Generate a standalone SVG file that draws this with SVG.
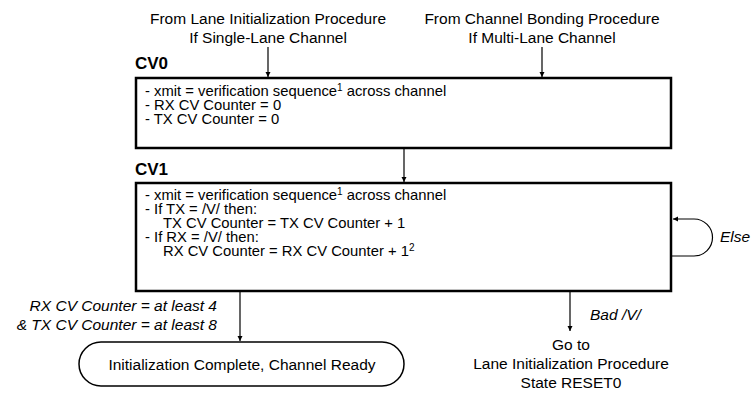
<svg xmlns="http://www.w3.org/2000/svg" width="753" height="397" viewBox="0 0 753 397">
<defs>
<marker id="arr" viewBox="0 0 10 10" refX="10" refY="5" markerWidth="5" markerHeight="9" orient="auto" markerUnits="userSpaceOnUse">
<path d="M0,0 L10,5 L0,10 z" fill="#000"/>
</marker>
<style>
text{font-family:"Liberation Sans",Arial,sans-serif;font-size:15.5px;fill:#000}
.b{font-size:14.8px}
.c{text-anchor:middle}
.e{text-anchor:end}
.i{font-style:italic}
.h{font-weight:bold;font-size:17px}
.box{fill:#fff;stroke:#000;stroke-width:2.5}
.ln{fill:none;stroke:#000;stroke-width:1.2}
.sup{font-size:10px}
</style>
</defs>
<rect width="753" height="397" fill="#fff"/>
<g id="src-single">
<text class="c" x="268" y="24">From Lane Initialization Procedure</text>
<text class="c" x="268" y="43">If Single-Lane Channel</text>
</g>
<g id="src-multi">
<text class="c" x="542" y="24">From Channel Bonding Procedure</text>
<text class="c" x="542" y="43">If Multi-Lane Channel</text>
</g>
<g id="cv0">
<text class="h" x="135" y="69">CV0</text>
<rect class="box" x="136" y="78" width="535" height="70"/>
<text class="b" x="145" y="96">- xmit = verification sequence<tspan class="sup" dy="-5">1</tspan><tspan dy="5"> across channel</tspan></text>
<text class="b" x="145" y="110">- RX CV Counter = 0</text>
<text class="b" x="145" y="124">- TX CV Counter = 0</text>
</g>
<g id="cv1">
<text class="h" x="135" y="175">CV1</text>
<rect class="box" x="136" y="183" width="535" height="108"/>
<text class="b" x="145" y="200">- xmit = verification sequence<tspan class="sup" dy="-5">1</tspan><tspan dy="5"> across channel</tspan></text>
<text class="b" x="145" y="214">- If TX = /V/ then:</text>
<text class="b" x="163" y="228">TX CV Counter = TX CV Counter + 1</text>
<text class="b" x="145" y="242">- If RX = /V/ then:</text>
<text class="b" x="163" y="256">RX CV Counter = RX CV Counter + 1<tspan class="sup" dy="-5">2</tspan></text>
</g>
<g id="ready">
<rect x="79" y="342" width="325" height="44" rx="22" fill="#fff" stroke="#000" stroke-width="1.5"/>
<text class="c" x="242" y="370">Initialization Complete, Channel Ready</text>
</g>
<g id="reset0">
<text class="c" x="571" y="350">Go to</text>
<text class="c" x="571" y="369">Lane Initialization Procedure</text>
<text class="c" x="571" y="388">State RESET0</text>
</g>
<g id="connectors">
<line class="ln" x1="268" y1="47" x2="268" y2="77" marker-end="url(#arr)"/>
<line class="ln" x1="542" y1="47" x2="542" y2="77" marker-end="url(#arr)"/>
<line class="ln" x1="404" y1="149" x2="404" y2="182" marker-end="url(#arr)"/>
<path class="ln" d="M672,256 H694 A18.5,18.5 0 0 0 694,219 H673" marker-end="url(#arr)"/>
<text class="i" x="720" y="242">Else</text>
<line class="ln" x1="240" y1="292" x2="240" y2="341" marker-end="url(#arr)"/>
<text class="e i" x="217" y="311">RX CV Counter = at least 4</text>
<text class="e i" x="217" y="330">&amp; TX CV Counter = at least 8</text>
<line class="ln" x1="570" y1="292" x2="570" y2="331" marker-end="url(#arr)"/>
<text class="i" x="590" y="320">Bad /V/</text>
</g>
</svg>
